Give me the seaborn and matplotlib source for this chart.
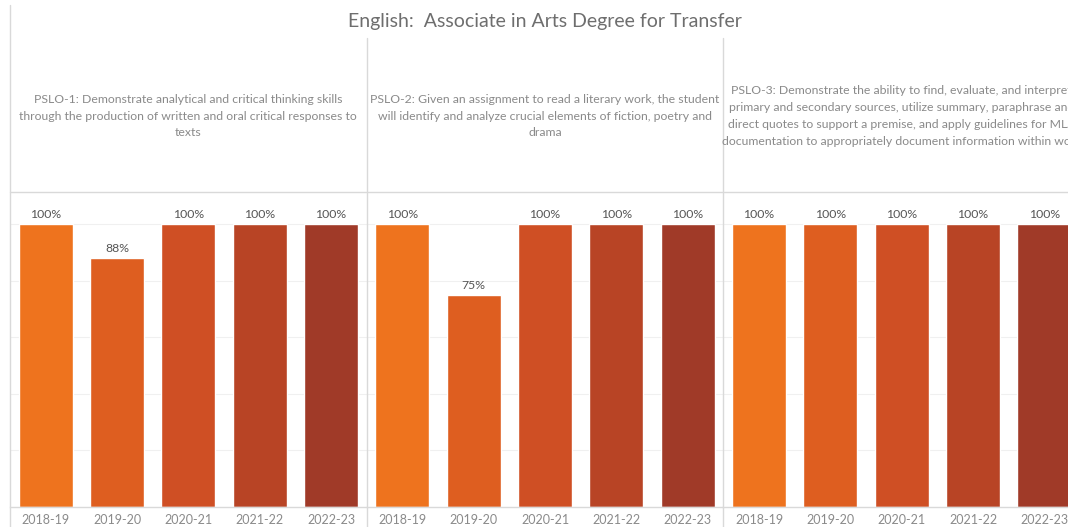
import matplotlib
matplotlib.use("Agg")
import matplotlib.pyplot as plt
from matplotlib.lines import Line2D
import seaborn as sns
import pandas as pd

# ---- data ----
years = ["2018-19", "2019-20", "2020-21", "2021-22", "2022-23"]
pslo_labels = [
    "PSLO-1: Demonstrate analytical and critical thinking skills\nthrough the production of written and oral critical responses to\ntexts",
    "PSLO-2: Given an assignment to read a literary work, the student\nwill identify and analyze crucial elements of fiction, poetry and\ndrama",
    "PSLO-3: Demonstrate the ability to find, evaluate, and interpret\nprimary and secondary sources, utilize summary, paraphrase and\ndirect quotes to support a premise, and apply guidelines for MLA\ndocumentation to appropriately document information within work",
]
pslo1_values = [100, 88, 100, 100, 100]
pslo2_values = [100, 75, 100, 100, 100]
pslo3_values = [100, 100, 100, 100, 100]
title = "English:  Associate in Arts Degree for Transfer"
year_colors = ["#EE731E", "#DE5E20", "#CF4F24", "#B84425", "#A03A28"]

series = [pslo1_values, pslo2_values, pslo3_values]
frames = []
for lab, vals in zip(pslo_labels, series):
    frames.append(pd.DataFrame({"pslo": lab, "year": years, "pct": vals}))
df = pd.concat(frames, ignore_index=True)

sns.set_theme(style="white")
plt.rcParams["font.family"] = ["Lato", "DejaVu Sans"]

W, H = 1068, 527
fig = plt.figure(figsize=(W / 100, H / 100), dpi=100)
fig.patch.set_facecolor("white")

def fx(x):
    return x / W

def fy(y):
    return 1 - y / H

x0 = 10
pw = 356.67
top_y, base_y, full_y = 192, 507, 224
ymax = 100 * (base_y - top_y) / (base_y - full_y)

line_col = "#d9d9d9"

for i, lab in enumerate(pslo_labels):
    left = x0 + i * pw
    ax = fig.add_axes([fx(left), fy(base_y), pw / W, (base_y - top_y) / H])
    sub = df[df["pslo"] == lab]
    sns.barplot(data=sub, x="year", y="pct", hue="year", palette=year_colors,
                order=years, hue_order=years, dodge=False, width=0.76,
                legend=False, ax=ax, saturation=1)
    ax.set_ylim(0, ymax)
    ax.set_xlim(-0.5, 4.5)
    for g in [20, 40, 60, 80, 100]:
        ax.axhline(g, color="#f0f0f0", lw=0.8, zorder=0)
    ax.set_axisbelow(True)
    for s in ax.spines.values():
        s.set_visible(False)
    ax.spines["bottom"].set_visible(True)
    ax.spines["bottom"].set_color(line_col)
    ax.spines["bottom"].set_linewidth(1)
    ax.set_yticks([])
    ax.set_xlabel("")
    ax.set_ylabel("")
    ax.tick_params(axis="x", length=0, pad=5, labelsize=9, labelcolor="#8a8a8a")
    for c in ax.containers:
        ax.bar_label(c, labels=[f"{v:.0f}%" for v in c.datavalues],
                     padding=3, fontsize=8.8, color="#555555")
    # header text
    fig.text(fx(left + pw / 2), fy(116), lab, ha="center", va="center",
             fontsize=8.85, color="#8a8a8a", linespacing=1.64)
    # divider line
    if i > 0:
        fig.add_artist(Line2D([fx(left), fx(left)], [fy(38), 0],
                              color=line_col, lw=1))

# left border and header separator
fig.add_artist(Line2D([fx(x0), fx(x0)], [fy(5), 0], color=line_col, lw=1))
fig.add_artist(Line2D([fx(x0), 1], [fy(top_y), fy(top_y)], color=line_col, lw=1))

fig.text(fx(545), fy(22), title, ha="center", va="center",
         fontsize=14, color="#6e6e6e")

fig.savefig("out.png", dpi=100, facecolor="white")
